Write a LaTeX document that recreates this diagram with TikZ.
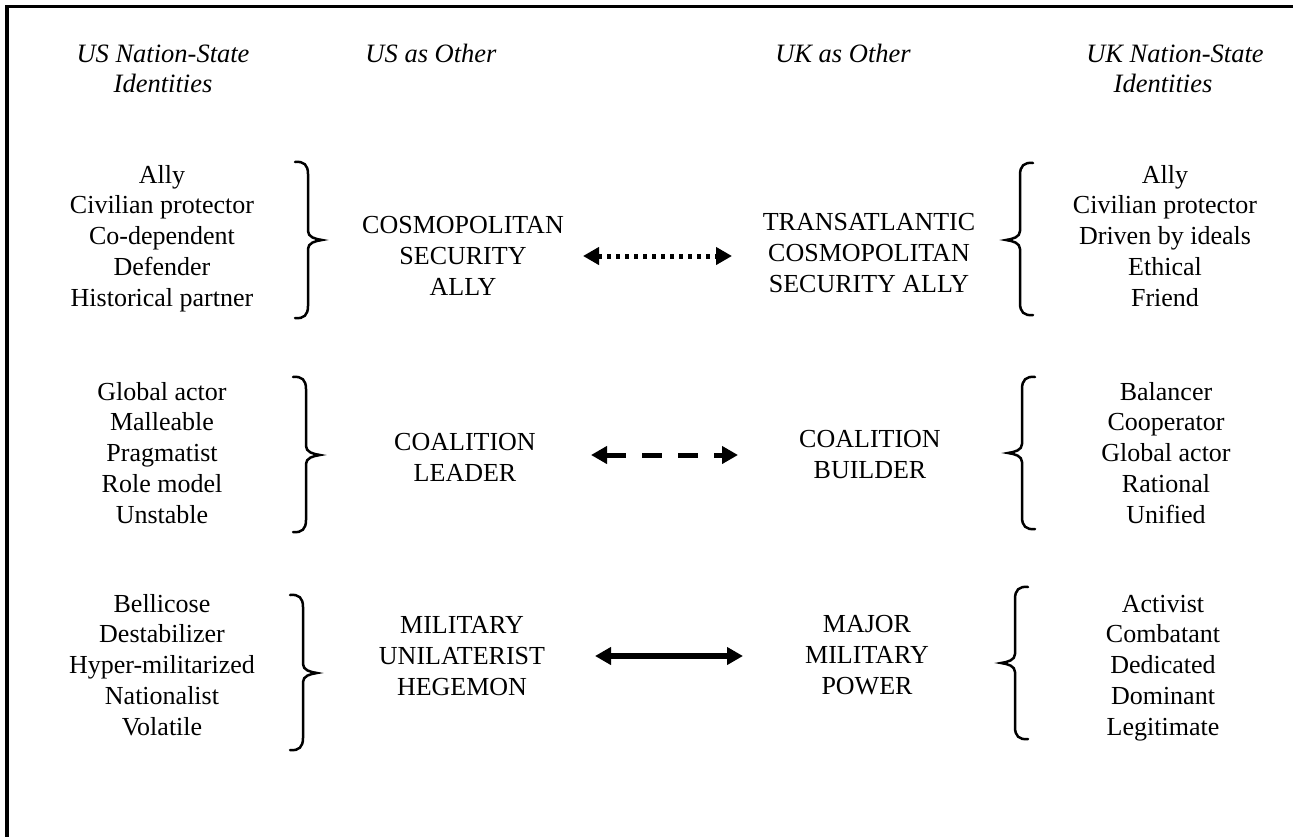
\documentclass[tikz,border=0pt]{standalone}
\usepackage{fontspec}
\setmainfont{Liberation Serif}
\usetikzlibrary{arrows.meta}
\newcommand{\Lines}[1]{\begin{tabular}[t]{@{}c@{}}#1\end{tabular}}
% closing brace: #1 hook x, #2 top y, #3 tip y, #4 bottom y
\newcommand{\BraceR}[4]{%
  \draw[bracepath] (#1,#2) .. controls +(9,-1) and +(0,-9) .. (#1+13,#2+12)
    -- (#1+13,#3-9) .. controls +(0,6) and +(-7,-1) .. (#1+27,#3)
    .. controls +(-7,1) and +(0,-6) .. (#1+13,#3+9)
    -- (#1+13,#4-12) .. controls +(0,9) and +(9,1) .. (#1,#4);}
% opening brace
\newcommand{\BraceL}[4]{%
  \draw[bracepath] (#1,#2) .. controls +(-9,-1) and +(0,-9) .. (#1-13,#2+12)
    -- (#1-13,#3-9) .. controls +(0,6) and +(7,-1) .. (#1-27,#3)
    .. controls +(7,1) and +(0,-6) .. (#1-13,#3+9)
    -- (#1-13,#4-12) .. controls +(0,9) and +(-9,1) .. (#1,#4);}
\begin{document}
\begin{tikzpicture}[x=1pt,y=-1pt,
  txt/.style={inner sep=0pt, anchor=base, font={\fontsize{26}{30.75}\selectfont}},
  mid/.style={inner sep=0pt, anchor=base, font={\fontsize{26}{31}\selectfont}},
  head/.style={inner sep=0pt, anchor=base, font={\fontsize{26.5}{30}\selectfont\itshape}},
  bracepath/.style={line width=2.5pt, line cap=round},
  tipT/.tip={Triangle[width=17pt,length=16pt]},
  link/.style={line width=5pt, tipT-tipT},
]
\useasboundingbox (0,0) rectangle (1293,836);
\fill[white] (0,0) rectangle (1293,836);
\draw[line width=3.5pt] (7,860) -- (7,6.5) -- (1310,6.5);

% headers
\node[head] (hUSid) at (163,62) {\Lines{US Nation-State\\Identities}};
\node[head] (hUSo) at (431,62) {US as Other};
\node[head] (hUKo) at (843,62) {UK as Other};
\node[head] (hUKid) at (1175,62) {\Lines{UK Nation-State\\\hspace*{-24pt}Identities}};

% left lists
\node[txt] (l1) at (162,183) {\Lines{Ally\\Civilian protector\\Co-dependent\\Defender\\Historical partner}};
\node[txt] (l2) at (162,400) {\Lines{Global actor\\Malleable\\Pragmatist\\Role model\\Unstable}};
\node[txt] (l3) at (162,612) {\Lines{Bellicose\\Destabilizer\\Hyper-militarized\\Nationalist\\Volatile}};

% right lists
\node[txt] (r1) at (1165,183) {\Lines{Ally\\Civilian protector\\Driven by ideals\\Ethical\\Friend}};
\node[txt] (r2) at (1166,400) {\Lines{Balancer\\Cooperator\\Global actor\\Rational\\Unified}};
\node[txt] (r3) at (1163,612) {\Lines{Activist\\Combatant\\Dedicated\\Dominant\\Legitimate}};

% middle texts
\node[mid] (m1l) at (463,233) {\Lines{COSMOPOLITAN\\SECURITY\\ALLY}};
\node[mid] (m1r) at (869,230) {\Lines{TRANSATLANTIC\\COSMOPOLITAN\\SECURITY ALLY}};
\node[mid] (m2l) at (465,450) {\Lines{COALITION\\LEADER}};
\node[mid] (m2r) at (870,447) {\Lines{COALITION\\BUILDER}};
\node[mid] (m3l) at (462,633) {\Lines{MILITARY\\UNILATERIST\\HEGEMON}};
\node[mid] (m3r) at (867,632) {\Lines{MAJOR\\MILITARY\\POWER}};

% braces
\BraceR{295}{162}{240}{318}
\BraceR{293}{377}{455}{532}
\BraceR{290}{595}{673}{750}
\BraceL{1033}{163}{240}{315}
\BraceL{1035}{377}{453}{529}
\BraceL{1028}{587}{663}{739}

% arrows
\coordinate (a1s) at (583,256);
\coordinate (a1e) at (732,256);
\coordinate (a2s) at (591,455);
\coordinate (a2e) at (738,455);
\coordinate (a3s) at (595,656);
\coordinate (a3e) at (743,656);
\draw[link, dash pattern=on 4pt off 5pt] (a1s) -- (a1e);
\draw[link, dash pattern=on 20pt off 16pt] (a2s) -- (a2e);
\draw[link, line width=6pt] (a3s) -- (a3e);
\end{tikzpicture}
\end{document}
